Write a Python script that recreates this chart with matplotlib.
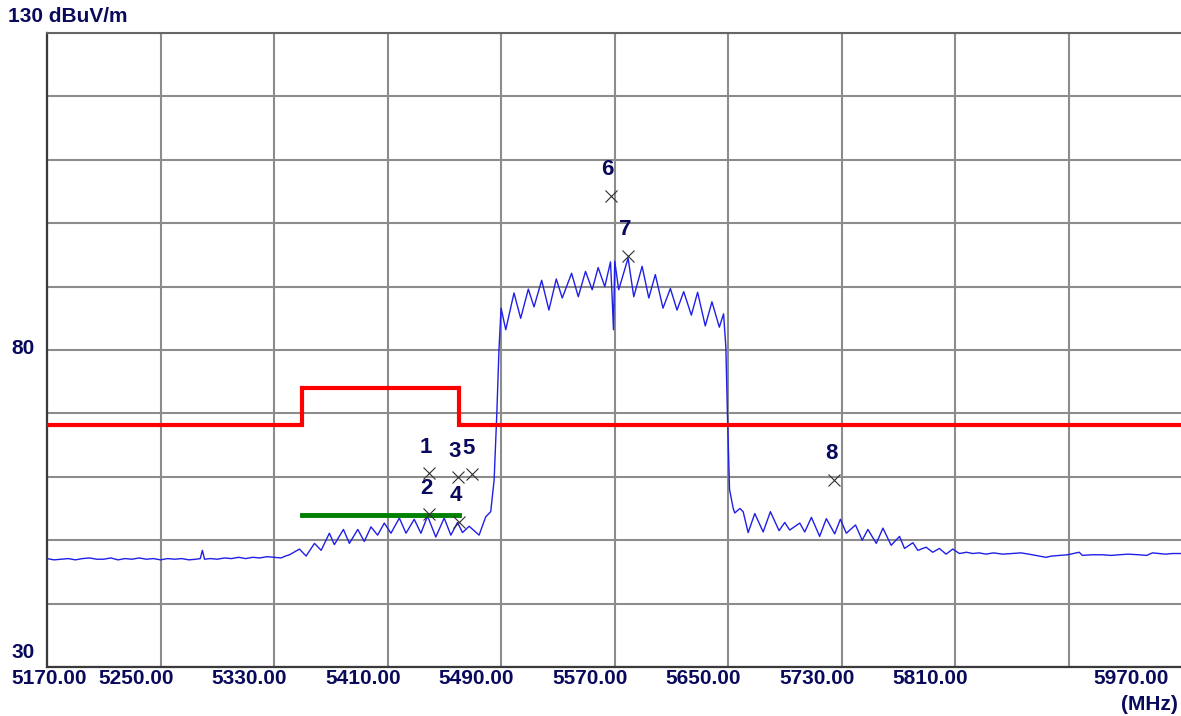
import matplotlib
matplotlib.use("Agg")
import matplotlib.pyplot as plt

# spectrum trace (MHz, dBuV/m)
trace_freq = [
    5170, 5175, 5180, 5185, 5190, 5195, 5200, 5205, 5210, 5215, 5220, 5225,
    5230, 5235, 5240, 5245, 5250, 5255, 5260, 5265, 5270, 5275, 5278, 5279.5,
    5281, 5285, 5290, 5295, 5300, 5305, 5310, 5315, 5320, 5325, 5330, 5335,
    5338, 5340.9, 5347.9, 5352.6, 5358.5, 5363.2, 5369.0, 5372.5, 5378.9,
    5383.1, 5389.0, 5393.6, 5398.3, 5403.0, 5407.7, 5412.4, 5418.3, 5423.0,
    5428.8, 5433.5, 5438.2, 5444.0, 5449.9, 5454.6, 5459.3, 5462.8, 5467.5,
    5474.5, 5479.2, 5482.7, 5485.1, 5487.0, 5488.5, 5490.0, 5493.3, 5499.1,
    5503.8, 5509.2, 5513.2, 5518.6, 5523.7, 5528.9, 5533.1, 5539.7, 5544.4,
    5549.5, 5554.2, 5558.4, 5563.1, 5567.1, 5568.3, 5569.2, 5570.1, 5572.9,
    5579.5, 5583.5, 5589.4, 5594.1, 5598.7, 5604.1, 5609.3, 5614.0, 5618.7,
    5624.1, 5628.5, 5633.9, 5638.6, 5643.8, 5646.8, 5648.4, 5649.5, 5651.0,
    5653.6, 5654.7, 5658.3, 5660.6, 5664.1, 5668.8, 5674.7, 5679.8, 5685.9,
    5689.9, 5693.4, 5700.5, 5704.0, 5708.7, 5714.5, 5719.2, 5725.1, 5729.1,
    5733.3, 5739.8, 5744.5, 5748.5, 5754.4, 5759.1, 5764.9, 5770.8, 5774.3,
    5780.2, 5783.7, 5789.5, 5794.2, 5798.9, 5803.6, 5808.3, 5813.0, 5818,
    5822.4, 5827, 5831.7, 5837, 5843.5, 5850, 5856.4, 5862, 5866.9, 5873.9,
    5878, 5883.3, 5889.2, 5897.4, 5899.7, 5906, 5913.8, 5920, 5925.5, 5932,
    5939.6, 5945, 5949.0, 5958.3, 5963, 5970,
]
trace_level = [
    47.1, 46.9, 47.0, 47.1, 46.9, 47.1, 47.2, 47.0, 47.0, 47.2, 46.9, 47.1,
    47.0, 47.2, 47.0, 47.1, 46.9, 47.1, 47.0, 47.1, 46.9, 47.0, 47.1, 48.4,
    47.0, 47.1, 47.0, 47.2, 47.1, 47.3, 47.1, 47.3, 47.2, 47.4, 47.3, 47.2,
    47.5, 47.7, 48.6, 47.5, 49.5, 48.4, 51.1, 49.3, 51.7,
    49.5, 51.7, 49.8, 52.1, 50.8, 52.7, 51.1, 53.5, 51.1,
    53.3, 51.1, 53.8, 50.5, 53.5, 50.8, 52.8, 51.2, 52.2,
    50.8, 53.7, 54.5, 59.5, 70.0, 80.0, 86.6, 83.2, 89.0,
    85.0, 89.6, 86.8, 91.0, 86.3, 91.2, 88.2, 92.1, 88.4,
    92.4, 89.5, 93.0, 90.0, 93.9, 88.2, 83.2, 94.0, 89.5,
    94.5, 88.4, 93.2, 88.2, 91.9, 86.6, 89.7, 86.3, 89.2,
    85.5, 89.1, 83.8, 87.6, 83.6, 85.7, 80.5, 70.0, 58.0,
    55.0, 54.3, 55.0, 54.5, 51.2, 54.2, 51.3, 54.5, 51.5,
    52.8, 51.6, 52.7, 51.3, 53.6, 50.6, 53.4, 51.0, 53.3,
    51.1, 52.4, 50.0, 51.7, 49.5, 51.9, 49.2, 50.6, 48.7,
    49.6, 48.4, 48.9, 48.1, 48.7, 47.8, 48.6, 47.9, 48.1,
    47.9, 48.0, 47.8, 48.0, 47.8, 47.9, 48.0, 47.8, 47.6, 47.3,
    47.5, 47.6, 47.7, 48.1, 47.6, 47.7, 47.7, 47.6, 47.7, 47.8,
    47.7, 47.6, 48.0, 47.8, 47.9, 47.9,
]

# limit lines
limit_freq = [5170, 5350, 5350, 5460, 5460, 5970]
limit_level = [68.2, 68.2, 74.0, 74.0, 68.2, 68.2]
avg_limit_freq = [5350, 5460]
avg_limit_level = [54.0, 54.0]

# markers
marker_ids = ["1", "2", "3", "4", "5", "6", "7", "8"]
marker_freq = [5439.2, 5439.2, 5459.4, 5460.3, 5469.3, 5567.2, 5579.6, 5724.6]
marker_level = [60.55, 54.13, 59.92, 52.92, 60.44, 104.34, 94.83, 59.5]

x_ticks = [5170, 5250, 5330, 5410, 5490, 5570, 5650, 5730, 5810, 5890, 5970]
x_tick_labels = ["5170.00", "5250.00", "5330.00", "5410.00", "5490.00", "5570.00",
                 "5650.00", "5730.00", "5810.00", "", "5970.00"]
y_ticks = [30, 40, 50, 60, 70, 80, 90, 100, 110, 120, 130]

TXT = "#0a0a5c"
FONT = dict(family="Liberation Sans", weight="bold", size=15, color=TXT)
MFONT = dict(family="Liberation Sans", weight="bold", size=16, color=TXT)

W, H = 1181, 716
fig = plt.figure(figsize=(W / 100, H / 100), dpi=100)
ax = fig.add_axes([47 / W, 49 / H, 1135.2 / W, 634 / H])

ax.set_xlim(5170, 5970)
ax.set_ylim(30, 130)
ax.set_xticks(x_ticks)
ax.set_yticks(y_ticks)
ax.set_xticklabels([])
ax.set_yticklabels([])
ax.tick_params(length=0)
ax.grid(True, color="#8c8c8c", linewidth=1.5)
ax.set_axisbelow(True)

for side in ["left", "bottom"]:
    ax.spines[side].set_color("#3a3a3a")
    ax.spines[side].set_linewidth(1.6)
ax.spines["top"].set_color("#666666")
ax.spines["top"].set_linewidth(1.5)
ax.spines["right"].set_visible(False)

ax.plot(trace_freq, trace_level, color="#1f1fe6", linewidth=1.0, zorder=3)
ax.plot(limit_freq, limit_level, color="#ff0000", linewidth=3.0, zorder=4,
        solid_joinstyle="miter")
ax.plot(avg_limit_freq, avg_limit_level, color="#008000", linewidth=3.5, zorder=4)

ax.plot(marker_freq, marker_level, linestyle="none", marker="x", markersize=9,
        markeredgewidth=0.8, color="#303030", zorder=5)
for mid, f, lv in zip(marker_ids, marker_freq, marker_level):
    ax.annotate(mid, xy=(f, lv), xytext=(-3, 26), textcoords="offset pixels",
                ha="center", va="center", zorder=6, **MFONT)

# x tick labels sit to the left of their grid line
for f, lab in zip(x_ticks, x_tick_labels):
    if not lab:
        continue
    if f == x_ticks[0]:
        dx, ha = -36, "left"
    elif f == x_ticks[-1]:
        dx, ha = -13, "right"
    else:
        dx, ha = 13, "right"
    ax.annotate(lab, xy=(f, 0), xycoords=("data", "axes fraction"),
                xytext=(dx, -12), textcoords="offset pixels",
                ha=ha, va="center", annotation_clip=False, **FONT)

ax.annotate("(MHz)", xy=(1, 0), xycoords="axes fraction", xytext=(-4, -37),
            textcoords="offset pixels", ha="right", va="center",
            annotation_clip=False, **FONT)

# y labels
ax.annotate("130 dBuV/m", xy=(0, 130), xycoords=("axes fraction", "data"),
            xytext=(-39, 16), textcoords="offset pixels", ha="left", va="center",
            annotation_clip=False, **FONT)
ax.annotate("80", xy=(0, 80), xycoords=("axes fraction", "data"),
            xytext=(-12, 1), textcoords="offset pixels", ha="right", va="center",
            annotation_clip=False, **FONT)
ax.annotate("30", xy=(0, 30), xycoords=("axes fraction", "data"),
            xytext=(-12, 15), textcoords="offset pixels", ha="right", va="center",
            annotation_clip=False, **FONT)

fig.savefig("out.png", dpi=100)
